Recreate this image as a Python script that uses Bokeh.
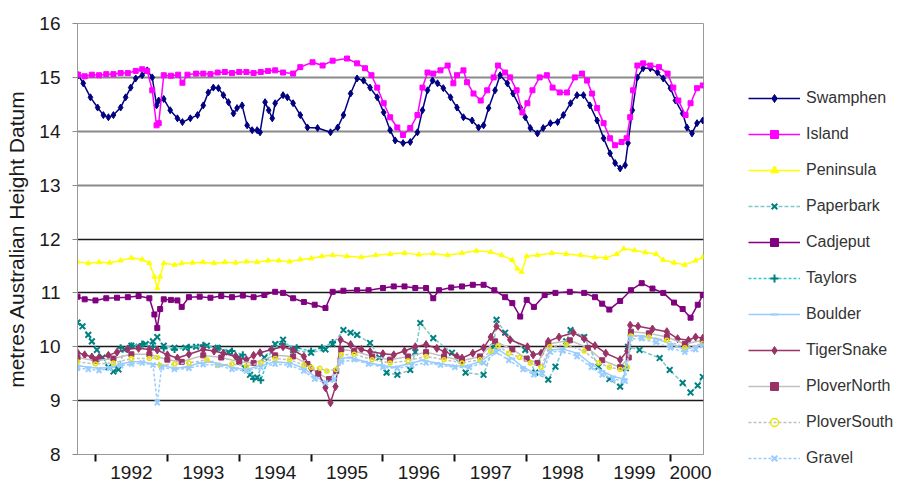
from bokeh.plotting import figure
from bokeh.models import Range1d, FixedTicker, Legend, LegendItem, Grid
from bokeh.layouts import row
from bokeh.embed import file_html
from bokeh.resources import INLINE

FONT = "Liberation Sans"

# ---- axis tick data ----
year_ticks = [1992, 1993, 1994, 1995, 1996, 1997, 1998, 1999, 2000]
year_labels = ["1992", "1993", "1994", "1995", "1996", "1997", "1998", "1999", "2000"]
year_label_pos = [1992.5, 1993.5, 1994.5, 1995.5, 1996.5, 1997.5, 1998.5, 1999.5, 2000.28]
level_ticks = [8, 9, 10, 11, 12, 13, 14, 15, 16]

# ---- series data (decimal year, metres AHD) ----
swamphen_t = [1991.76, 1991.83, 1991.93, 1992.03, 1992.11, 1992.18, 1992.25, 1992.35, 1992.42, 1992.49,
              1992.56, 1992.65, 1992.72, 1992.79, 1992.85, 1992.88, 1992.95, 1993.04, 1993.14, 1993.21,
              1993.32, 1993.42, 1993.50, 1993.57, 1993.64, 1993.71, 1993.78, 1993.85, 1993.92, 1993.97,
              1994.04, 1994.11, 1994.18, 1994.25, 1994.29, 1994.36, 1994.41, 1994.46, 1994.50, 1994.61,
              1994.67, 1994.75, 1994.85, 1994.95, 1995.09, 1995.27, 1995.37, 1995.45, 1995.55, 1995.64,
              1995.73, 1995.82, 1995.92, 1996.01, 1996.10, 1996.17, 1996.28, 1996.38, 1996.48, 1996.55,
              1996.62, 1996.69, 1996.76, 1996.84, 1996.94, 1997.03, 1997.12, 1997.24, 1997.33, 1997.40,
              1997.47, 1997.56, 1997.63, 1997.73, 1997.81, 1997.91, 1997.98, 1998.05, 1998.15, 1998.23,
              1998.33, 1998.43, 1998.51, 1998.61, 1998.70, 1998.79, 1998.88, 1998.98, 1999.07, 1999.16,
              1999.23, 1999.30, 1999.37, 1999.41, 1999.47, 1999.54, 1999.62, 1999.72, 1999.82, 1999.90,
              2000.00, 2000.07, 2000.17, 2000.23, 2000.30, 2000.37, 2000.45]
swamphen_v = [15.04, 14.89, 14.63, 14.44, 14.30, 14.26, 14.30, 14.44, 14.63, 14.81,
              14.98, 15.04, 15.13, 15.00, 14.48, 14.57, 14.60, 14.39, 14.24, 14.17,
              14.24, 14.30, 14.48, 14.72, 14.81, 14.80, 14.67, 14.54, 14.33, 14.43,
              14.48, 14.11, 14.02, 14.02, 13.98, 14.54, 14.39, 14.24, 14.52, 14.67,
              14.63, 14.52, 14.30, 14.07, 14.06, 13.98, 14.07, 14.30, 14.70, 14.98,
              14.94, 14.81, 14.63, 14.35, 14.02, 13.83, 13.78, 13.80, 13.98, 14.39,
              14.76, 14.94, 14.89, 14.80, 14.63, 14.44, 14.26, 14.20, 14.07, 14.11,
              14.43, 14.76, 15.04, 14.89, 14.70, 14.44, 14.26, 14.06, 13.96, 14.06,
              14.15, 14.17, 14.30, 14.52, 14.67, 14.67, 14.48, 14.20, 13.87, 13.59,
              13.41, 13.31, 13.37, 13.78, 14.39, 15.00, 15.17, 15.17, 15.09, 14.98,
              14.80, 14.57, 14.33, 14.07, 13.96, 14.15, 14.20]

island_t = [1991.76, 1991.85, 1991.95, 1992.05, 1992.15, 1992.25, 1992.35, 1992.45, 1992.56, 1992.65,
            1992.72, 1992.79, 1992.85, 1992.88, 1992.95, 1993.05, 1993.15, 1993.21, 1993.28, 1993.40,
            1993.50, 1993.60, 1993.70, 1993.80, 1993.90, 1994.00, 1994.10, 1994.20, 1994.30, 1994.40,
            1994.50, 1994.61, 1994.75, 1994.85, 1995.02, 1995.16, 1995.30, 1995.50, 1995.64, 1995.75,
            1995.84, 1995.92, 1996.01, 1996.10, 1996.20, 1996.28, 1996.38, 1996.48, 1996.55, 1996.62,
            1996.70, 1996.80, 1996.90, 1996.98, 1997.03, 1997.12, 1997.17, 1997.26, 1997.36, 1997.45,
            1997.54, 1997.60, 1997.70, 1997.77, 1997.86, 1997.94, 1998.01, 1998.08, 1998.18, 1998.28,
            1998.36, 1998.46, 1998.56, 1998.67, 1998.77, 1998.84, 1998.91, 1998.98, 1999.07, 1999.16,
            1999.23, 1999.32, 1999.39, 1999.44, 1999.48, 1999.54, 1999.62, 1999.72, 1999.84, 1999.96,
            2000.04, 2000.11, 2000.21, 2000.28, 2000.37, 2000.45]
island_v = [15.05, 15.02, 15.05, 15.04, 15.06, 15.06, 15.08, 15.08, 15.12, 15.15,
            15.12, 14.76, 14.11, 14.15, 15.04, 15.03, 15.05, 14.90, 15.05, 15.07,
            15.07, 15.06, 15.09, 15.10, 15.08, 15.10, 15.10, 15.08, 15.10, 15.12,
            15.13, 15.09, 15.07, 15.19, 15.28, 15.22, 15.31, 15.35, 15.26, 15.17,
            15.04, 14.81, 14.52, 14.26, 14.07, 13.93, 14.06, 14.30, 14.81, 15.09,
            15.07, 15.13, 15.22, 14.89, 15.04, 15.13, 14.91, 14.70, 14.57, 14.76,
            15.00, 15.22, 15.09, 15.00, 14.76, 14.35, 14.52, 14.76, 15.00, 15.04,
            14.81, 14.72, 14.72, 15.00, 15.07, 14.94, 14.70, 14.43, 14.15, 13.87,
            13.74, 13.80, 13.87, 14.26, 14.76, 15.22, 15.26, 15.22, 15.19, 15.07,
            14.81, 14.57, 14.30, 14.52, 14.80, 14.85]

peninsula_t = [1991.75, 1991.90, 1992.05, 1992.20, 1992.35, 1992.50, 1992.65, 1992.75, 1992.82, 1992.86,
               1992.90, 1992.95, 1993.10, 1993.20, 1993.35, 1993.50, 1993.65, 1993.80, 1993.95, 1994.10,
               1994.25, 1994.40, 1994.55, 1994.70, 1994.85, 1995.00, 1995.15, 1995.30, 1995.50, 1995.70,
               1995.90, 1996.10, 1996.30, 1996.50, 1996.70, 1996.90, 1997.10, 1997.30, 1997.50, 1997.65,
               1997.80, 1997.87, 1997.93, 1998.00, 1998.15, 1998.35, 1998.55, 1998.75, 1998.95, 1999.10,
               1999.25, 1999.35, 1999.50, 1999.65, 1999.80, 1999.90, 2000.05, 2000.20, 2000.35, 2000.45]
peninsula_v = [11.58, 11.55, 11.57, 11.56, 11.60, 11.65, 11.62, 11.55, 11.30, 11.09,
               11.30, 11.55, 11.52, 11.55, 11.56, 11.57, 11.55, 11.57, 11.56, 11.58,
               11.57, 11.60, 11.60, 11.58, 11.62, 11.64, 11.68, 11.70, 11.68, 11.66,
               11.70, 11.72, 11.74, 11.71, 11.73, 11.70, 11.74, 11.78, 11.76, 11.70,
               11.61, 11.45, 11.39, 11.68, 11.70, 11.74, 11.72, 11.70, 11.66, 11.65,
               11.72, 11.82, 11.79, 11.75, 11.72, 11.61, 11.56, 11.52, 11.60, 11.66]

paperbark_t = [1991.75, 1991.82, 1991.90, 1991.95, 1992.02, 1992.10, 1992.18, 1992.25, 1992.32, 1992.40,
               1992.50, 1992.60, 1992.70, 1992.80, 1992.86, 1992.95, 1993.10, 1993.25, 1993.40, 1993.55,
               1993.70, 1993.85, 1994.00, 1994.08, 1994.15, 1994.25, 1994.35, 1994.50, 1994.61, 1994.75,
               1995.00, 1995.20, 1995.30, 1995.45, 1995.55, 1995.64, 1995.82, 1995.95, 1996.05, 1996.20,
               1996.38, 1996.45, 1996.52, 1996.70, 1996.96, 1997.15, 1997.40, 1997.54, 1997.58, 1997.70,
               1997.98, 1998.12, 1998.30, 1998.40, 1998.55, 1998.61, 1998.80, 1999.00, 1999.15, 1999.30,
               1999.38, 1999.41, 1999.57, 1999.85, 1999.99, 2000.17, 2000.28, 2000.38, 2000.45]
paperbark_v = [10.45, 10.38, 10.22, 10.10, 9.94, 9.80, 9.62, 9.54, 9.58, 9.95,
               10.02, 10.00, 10.05, 10.10, 10.18, 10.02, 9.98, 9.98, 10.00, 10.02,
               9.98, 9.90, 9.80, 9.60, 9.48, 9.43, 9.80, 10.05, 10.13, 9.94,
               9.89, 9.95, 10.05, 10.31, 10.26, 10.22, 10.07, 9.80, 9.52, 9.48,
               9.57, 9.90, 10.44, 10.16, 9.89, 9.52, 9.48, 10.00, 10.50, 10.26,
               9.94, 9.52, 9.39, 9.63, 10.10, 10.31, 10.18, 9.63, 9.40, 9.26,
               9.60, 10.00, 9.94, 9.79, 9.57, 9.33, 9.15, 9.28, 9.44]

cadjeput_t = [1991.75, 1991.85, 1992.00, 1992.15, 1992.30, 1992.45, 1992.60, 1992.75, 1992.82, 1992.86,
              1992.90, 1992.95, 1993.05, 1993.14, 1993.20, 1993.30, 1993.45, 1993.60, 1993.75, 1993.90,
              1994.05, 1994.20, 1994.35, 1994.50, 1994.61, 1994.75, 1994.90, 1995.05, 1995.20, 1995.30,
              1995.45, 1995.64, 1995.80, 1996.00, 1996.15, 1996.30, 1996.45, 1996.60, 1996.70, 1996.78,
              1996.95, 1997.10, 1997.25, 1997.40, 1997.55, 1997.70, 1997.80, 1997.91, 1998.00, 1998.10,
              1998.25, 1998.40, 1998.60, 1998.80, 1998.95, 1999.05, 1999.15, 1999.30, 1999.45, 1999.60,
              1999.75, 1999.90, 2000.05, 2000.17, 2000.28, 2000.38, 2000.45]
cadjeput_v = [10.93, 10.88, 10.86, 10.90, 10.91, 10.92, 10.94, 10.90, 10.60, 10.35,
              10.70, 10.88, 10.87, 10.86, 10.74, 10.92, 10.93, 10.91, 10.94, 10.92,
              10.95, 10.92, 10.96, 11.02, 11.00, 10.90, 10.83, 10.78, 10.72, 11.02,
              11.04, 11.05, 11.05, 11.09, 11.12, 11.12, 11.09, 11.09, 10.90, 11.05,
              11.10, 11.12, 11.15, 11.15, 11.05, 10.92, 10.81, 10.56, 10.87, 10.74,
              10.96, 11.00, 11.02, 11.00, 10.92, 10.80, 10.69, 10.85, 11.05, 11.18,
              11.08, 11.00, 10.82, 10.70, 10.54, 10.78, 10.96]

taylors_t = [1992.35, 1992.50, 1992.65, 1992.80, 1992.95, 1993.10, 1993.30, 1993.50, 1993.70, 1993.90,
             1994.05, 1994.20, 1994.30, 1994.45, 1994.60, 1994.80, 1995.00, 1995.15, 1995.30]
taylors_v = [9.98, 10.02, 10.05, 10.00, 9.97, 9.95, 9.99, 10.03, 9.97, 9.92,
             9.85, 9.40, 9.38, 9.95, 10.05, 9.98, 9.92, 9.98, 10.08]

boulder_t = [1991.75, 1991.90, 1992.05, 1992.20, 1992.35, 1992.50, 1992.65, 1992.80, 1992.95, 1993.10,
             1993.25, 1993.45, 1993.60, 1993.80, 1993.95, 1994.10, 1994.30, 1994.50, 1994.70, 1994.90,
             1995.05, 1995.20, 1995.30, 1995.40, 1995.55, 1995.75, 1995.95, 1996.15, 1996.35, 1996.55,
             1996.75, 1996.95, 1997.15, 1997.35, 1997.52, 1997.60, 1997.80, 1997.95, 1998.10, 1998.20,
             1998.32, 1998.50, 1998.70, 1998.90, 1999.05, 1999.20, 1999.35, 1999.44, 1999.60, 1999.80,
             2000.00, 2000.20, 2000.35, 2000.45]
boulder_v = [9.65, 9.62, 9.60, 9.62, 9.68, 9.72, 9.72, 9.68, 9.65, 9.60,
             9.62, 9.70, 9.72, 9.66, 9.60, 9.58, 9.65, 9.72, 9.70, 9.60,
             9.45, 9.35, 9.40, 9.78, 9.80, 9.72, 9.66, 9.62, 9.68, 9.75,
             9.70, 9.65, 9.64, 9.72, 9.88, 9.95, 9.78, 9.62, 9.52, 9.55,
             9.94, 9.96, 9.88, 9.68, 9.55, 9.45, 9.40, 10.22, 10.20, 10.15,
             10.05, 9.95, 10.00, 10.05]

tigersnake_t = [1991.75, 1991.85, 1991.95, 1992.05, 1992.18, 1992.30, 1992.45, 1992.60, 1992.75, 1992.86,
                1993.00, 1993.14, 1993.30, 1993.50, 1993.65, 1993.78, 1993.95, 1994.10, 1994.20, 1994.29,
                1994.45, 1994.61, 1994.75, 1994.90, 1995.00, 1995.10, 1995.20, 1995.27, 1995.34, 1995.41,
                1995.55, 1995.70, 1995.82, 1996.00, 1996.15, 1996.30, 1996.45, 1996.60, 1996.75, 1996.86,
                1997.03, 1997.10, 1997.25, 1997.40, 1997.50, 1997.58, 1997.77, 1998.01, 1998.09, 1998.20,
                1998.30, 1998.45, 1998.65, 1998.80, 1998.95, 1999.10, 1999.30, 1999.40, 1999.44, 1999.55,
                1999.75, 1999.95, 2000.10, 2000.25, 2000.35, 2000.45]
tigersnake_v = [9.89, 9.85, 9.81, 9.80, 9.84, 9.90, 9.96, 9.97, 9.95, 9.94,
                9.85, 9.79, 9.86, 9.95, 9.92, 9.88, 9.82, 9.76, 9.84, 9.89,
                9.95, 10.00, 9.94, 9.82, 9.60, 9.52, 9.24, 8.96, 9.26, 10.13,
                10.04, 9.95, 9.91, 9.87, 9.85, 9.92, 10.00, 10.04, 9.97, 9.91,
                9.82, 9.79, 9.88, 9.98, 10.18, 10.38, 10.13, 10.00, 9.85, 9.88,
                10.10, 10.18, 10.26, 10.15, 10.02, 9.88, 9.76, 9.92, 10.40, 10.38,
                10.33, 10.28, 10.15, 10.12, 10.18, 10.16]

plovernorth_t = [1991.75, 1992.00, 1992.25, 1992.50, 1992.75, 1993.00, 1993.20, 1993.50, 1993.75, 1994.00,
                 1994.20, 1994.50, 1994.75, 1994.95, 1995.10, 1995.25, 1995.35, 1995.42, 1995.60, 1995.85,
                 1996.10, 1996.35, 1996.60, 1996.85, 1997.10, 1997.35, 1997.56, 1997.80, 1998.00, 1998.15,
                 1998.30, 1998.60, 1998.85, 1999.05, 1999.30, 1999.42, 1999.45, 1999.70, 1999.95, 2000.20,
                 2000.45]
plovernorth_v = [9.80, 9.74, 9.78, 9.86, 9.86, 9.76, 9.72, 9.84, 9.80, 9.72,
                 9.70, 9.84, 9.82, 9.68, 9.50, 9.40, 9.55, 9.95, 9.92, 9.82,
                 9.76, 9.82, 9.90, 9.82, 9.74, 9.82, 10.10, 9.95, 9.78, 9.70,
                 10.05, 10.12, 9.98, 9.75, 9.62, 9.80, 10.28, 10.25, 10.18, 10.05,
                 10.12]

ploversouth_t = [1991.75, 1992.00, 1992.25, 1992.50, 1992.75, 1992.86, 1992.90, 1993.10, 1993.30, 1993.55,
                 1993.70, 1993.90, 1994.10, 1994.30, 1994.50, 1994.70, 1994.90, 1995.00, 1995.12, 1995.22,
                 1995.35, 1995.42, 1995.60, 1995.85, 1996.10, 1996.35, 1996.60, 1996.85, 1997.10, 1997.35,
                 1997.50, 1997.60, 1997.75, 1997.90, 1998.05, 1998.20, 1998.32, 1998.55, 1998.80, 1999.00,
                 1999.15, 1999.30, 1999.40, 1999.45, 1999.70, 1999.95, 2000.20, 2000.45]
ploversouth_v = [9.72, 9.68, 9.70, 9.78, 9.78, 9.80, 9.65, 9.68, 9.70, 9.76,
                 9.65, 9.68, 9.64, 9.70, 9.78, 9.76, 9.66, 9.62, 9.60, 9.55,
                 9.58, 9.85, 9.86, 9.76, 9.70, 9.74, 9.82, 9.76, 9.70, 9.76,
                 9.92, 10.02, 9.88, 9.80, 9.70, 9.62, 10.00, 10.04, 9.92, 9.70,
                 9.62, 9.58, 9.62, 10.20, 10.18, 10.12, 9.98, 10.06]

gravel_t = [1991.75, 1991.90, 1992.05, 1992.20, 1992.35, 1992.50, 1992.65, 1992.80, 1992.86, 1992.92,
            1993.10, 1993.30, 1993.50, 1993.70, 1993.90, 1994.10, 1994.30, 1994.50, 1994.70, 1994.90,
            1995.05, 1995.20, 1995.32, 1995.42, 1995.60, 1995.80, 1996.00, 1996.20, 1996.40, 1996.60,
            1996.80, 1997.00, 1997.20, 1997.40, 1997.58, 1997.75, 1997.95, 1998.10, 1998.22, 1998.33,
            1998.50, 1998.70, 1998.90, 1999.05, 1999.20, 1999.37, 1999.44, 1999.60, 1999.80, 2000.00,
            2000.20, 2000.35, 2000.45]
gravel_v = [9.60, 9.58, 9.56, 9.60, 9.65, 9.68, 9.70, 9.66, 8.96, 9.62,
            9.58, 9.60, 9.67, 9.66, 9.58, 9.55, 9.62, 9.68, 9.66, 9.55,
            9.40, 9.33, 9.38, 9.72, 9.76, 9.68, 9.62, 9.60, 9.65, 9.70,
            9.66, 9.62, 9.62, 9.70, 9.90, 9.75, 9.58, 9.48, 9.50, 9.90,
            9.92, 9.82, 9.62, 9.48, 9.40, 9.36, 10.15, 10.15, 10.08, 9.98,
            9.90, 9.95, 10.02]

# name, t, v, line color, line dash, marker, marker line color, marker fill color, marker size
series = [
    ("Swamphen", swamphen_t, swamphen_v, "#000080", "solid", "diamond", "#000080", "#000080", 7),
    ("Island", island_t, island_v, "#FF00FF", "solid", "square", "#FF00FF", "#FF00FF", 5),
    ("Peninsula", peninsula_t, peninsula_v, "#FFFF00", "solid", "triangle", "#FFFF00", "#FFFF00", 5),
    ("Paperbark", paperbark_t, paperbark_v, "#7FC9C9", "4 2", "x", "#008080", "#008080", 8),
    ("Cadjeput", cadjeput_t, cadjeput_v, "#800080", "solid", "square", "#800080", "#800080", 5),
    ("Taylors", taylors_t, taylors_v, "#33CCCC", "3 2", "cross", "#008080", "#008080", 7),
    ("Boulder", boulder_t, boulder_v, "#99CCFF", "solid", "dash", "#99CCFF", "#99CCFF", 6),
    ("TigerSnake", tigersnake_t, tigersnake_v, "#993366", "solid", "diamond", "#993366", "#993366", 8),
    ("PloverNorth", plovernorth_t, plovernorth_v, "#C0C0C0", "solid", "square", "#993366", "#993366", 5),
    ("PloverSouth", ploversouth_t, ploversouth_v, "#C0C0C0", "3 2", "circle", "#E6E600", None, 4),
    ("Gravel", gravel_t, gravel_v, "#99CCFF", "3 2", "x", "#99CCFF", "#99CCFF", 7),
]

H = 481

# ---------------- main chart ----------------
p = figure(width=718, height=H, output_backend="svg", toolbar_location=None,
           x_range=Range1d(1991.75, 2000.46), y_range=Range1d(8, 16),
           min_border_left=77, min_border_right=15, min_border_top=23, min_border_bottom=10,
           background_fill_color="white", border_fill_color="white")
p.frame_align = False

p.outline_line_color = "#9a9a9a"
p.outline_line_width = 1

p.xgrid.visible = False
p.ygrid.visible = False
g_dark = Grid(dimension=1, ticker=FixedTicker(ticks=[9, 10, 11, 12]),
              grid_line_color="#1a1a1a", grid_line_width=1.6)
g_grey = Grid(dimension=1, ticker=FixedTicker(ticks=[13, 14, 15, 16]),
              grid_line_color="#8a8a8a", grid_line_width=2)
p.add_layout(g_dark)
p.add_layout(g_grey)

p.yaxis.ticker = FixedTicker(ticks=level_ticks)
p.yaxis.axis_label = "metres Australian Height Datum"
p.yaxis.axis_label_text_font = FONT
p.yaxis.axis_label_text_font_size = "21px"
p.yaxis.axis_label_text_font_style = "normal"
p.yaxis.axis_label_text_color = "#1a1a1a"
p.yaxis.axis_label_standoff = 8
p.yaxis.major_label_text_font = FONT
p.yaxis.major_label_text_font_size = "19px"
p.yaxis.major_label_text_color = "#1a1a1a"
p.yaxis.major_label_standoff = 12
p.yaxis.major_tick_in = 0
p.yaxis.major_tick_out = 5
p.yaxis.major_tick_line_color = "#8a8a8a"
p.yaxis.minor_tick_line_color = None
p.yaxis.axis_line_color = "#9a9a9a"

p.xaxis.ticker = FixedTicker(ticks=year_label_pos, minor_ticks=year_ticks)
p.xaxis.major_label_overrides = {pos: lab for pos, lab in zip(year_label_pos, year_labels)}
p.xaxis.major_tick_in = 0
p.xaxis.major_tick_out = 0
p.xaxis.minor_tick_in = 0
p.xaxis.minor_tick_out = 7
p.xaxis.minor_tick_line_color = "#111111"
p.xaxis.minor_tick_line_width = 2
p.xaxis.major_label_standoff = 4
p.xaxis.major_label_text_font = FONT
p.xaxis.major_label_text_font_size = "19px"
p.xaxis.major_label_text_color = "#1a1a1a"
p.xaxis.axis_line_color = "#9a9a9a"


def draw(fig, t, v, lc, dash, mk, mlc, mfc, ms):
    lr = fig.line(t, v, line_color=lc, line_width=1.5, line_dash=dash)
    if mfc is None:
        sr = fig.scatter(t, v, marker=mk, size=ms, line_color=mlc, fill_color=None, line_width=1.5)
    else:
        sr = fig.scatter(t, v, marker=mk, size=ms, line_color=mlc, fill_color=mfc,
                         line_width=2 if mk in ("x", "cross", "dash") else 1)
    return lr, sr


for name, t, v, lc, dash, mk, mlc, mfc, ms in series:
    draw(p, t, v, lc, dash, mk, mlc, mfc, ms)

# ---------------- legend panel (separate figure, same styles) ----------------
lp = figure(width=180, height=H, output_backend="svg", toolbar_location=None,
            x_axis_type=None, y_axis_type=None,
            x_range=Range1d(0, 1), y_range=Range1d(0, 1), min_border=0,
            background_fill_color="white", border_fill_color="white")
lp.frame_align = False
lp.grid.visible = False
lp.outline_line_color = None

items = []
for name, t, v, lc, dash, mk, mlc, mfc, ms in series:
    lr, sr = draw(lp, t, v, lc, dash, mk, mlc, mfc, ms)
    items.append(LegendItem(label=name, renderers=[lr, sr]))

legend = Legend(items=items, location=(30, 13), orientation="vertical",
                glyph_width=52, glyph_height=20, label_height=20, spacing=16,
                padding=0, margin=0, label_standoff=6,
                border_line_alpha=0, background_fill_alpha=0,
                label_text_font=FONT, label_text_font_size="16px", label_text_color="#333333")
lp.add_layout(legend)

layout = row(p, lp, spacing=0)
open("out.html", "w").write(file_html(layout, INLINE))
